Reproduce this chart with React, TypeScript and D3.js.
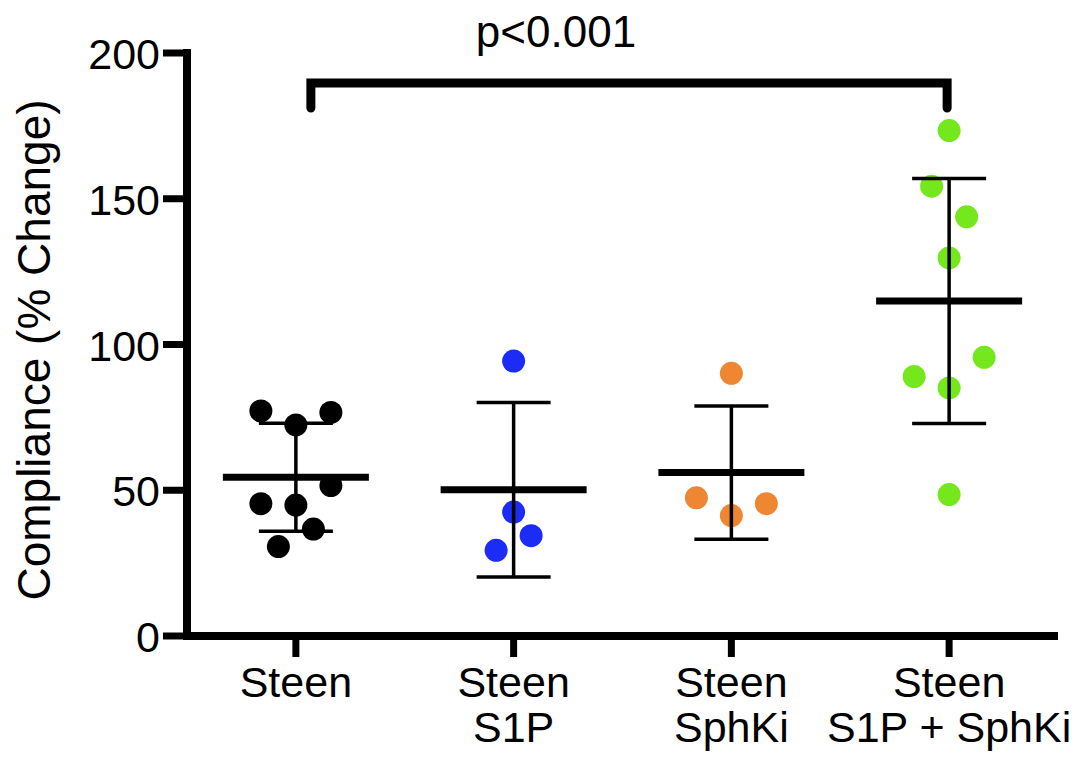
import React from 'react';
import { scaleBand, scaleLinear, mean, deviation } from 'd3';

// groups along the x axis (each label may wrap onto two lines)
const categories = ['Steen', 'Steen S1P', 'Steen SphKi', 'Steen S1P + SphKi'];
const categoryLines = [['Steen'], ['Steen', 'S1P'], ['Steen', 'SphKi'], ['Steen', 'S1P + SphKi']];
const groupColors = ['#000000', '#1a2cf5', '#ef8631', '#74e81c'];

// individual values, % change in compliance
const steen = [77.2, 76.7, 72.4, 51.6, 45.4, 44.9, 36.7, 30.7];
const steenS1P = [94.3, 42.5, 34.4, 29.4];
const steenSphKi = [90.1, 47.4, 45.4, 41.3];
const steenS1PSphKi = [173.4, 154.3, 143.8, 129.7, 95.6, 89.0, 85.1, 48.5];

// scatter slot of each point (column-scatter jitter, in dot widths)
const steenSlots = [-2, 2, 0, 2, -2, 0, 1, -1];
const steenS1PSlots = [0, 0, 1, -1];
const steenSphKiSlots = [0, -2, 2, 0];
const steenS1PSphKiSlots = [0, -1, 1, 0, 2, -2, 0, 0];

const yTicks = [0, 50, 100, 150, 200];
const pLabel = 'p<0.001';

const groups = [
  { key: categories[0], values: steen, slots: steenSlots },
  { key: categories[1], values: steenS1P, slots: steenS1PSlots },
  { key: categories[2], values: steenSphKi, slots: steenSphKiSlots },
  { key: categories[3], values: steenS1PSphKi, slots: steenS1PSphKiSlots },
];

const W = 1090;
const H = 764;
const FONT = '"Liberation Sans", Arial, Helvetica, sans-serif';

export default function App() {
  const x = scaleBand<string>().domain(categories).range([187, 1058]).padding(0);
  const y = scaleLinear().domain([0, 200]).range([636, 53]);
  const cx = (k: string) => (x(k) ?? 0) + x.bandwidth() / 2;

  const slotW = 17.5;
  const r = 11.5;
  const meanHalf = 73;
  const capHalf = 37;

  const bx1 = cx(categories[0]) + 15;
  const bx2 = cx(categories[3]) - 2;
  const by = 83;
  const byLeg = 108;

  return (
    <div style={{ position: 'absolute', left: 0, top: 0 }}>
      <svg width={W} height={H} style={{ display: 'block', background: '#fff' }} fontFamily={FONT}>
        {/* y axis title */}
        <text
          transform={`translate(50, 350) rotate(-90)`}
          textAnchor="middle"
          fontSize={46}
          fill="#000"
        >
          Compliance (% Change)
        </text>

        {/* points */}
        {groups.map((g, gi) =>
          g.values.map((v, i) => (
            <circle
              key={`${g.key}-${i}`}
              cx={cx(g.key) + g.slots[i] * slotW}
              cy={y(v)}
              r={r}
              fill={groupColors[gi]}
            />
          )),
        )}

        {/* mean ± SD */}
        {groups.map((g) => {
          const m = mean(g.values) ?? 0;
          const sd = deviation(g.values) ?? 0;
          const c = cx(g.key);
          return (
            <g key={`err-${g.key}`} stroke="#000">
              <line x1={c} x2={c} y1={y(m + sd)} y2={y(m - sd)} strokeWidth={3.5} />
              <line x1={c - capHalf} x2={c + capHalf} y1={y(m + sd)} y2={y(m + sd)} strokeWidth={3.5} />
              <line x1={c - capHalf} x2={c + capHalf} y1={y(m - sd)} y2={y(m - sd)} strokeWidth={3.5} />
              <line x1={c - meanHalf} x2={c + meanHalf} y1={y(m)} y2={y(m)} strokeWidth={7} />
            </g>
          );
        })}

        {/* y axis */}
        <line x1={187} x2={187} y1={49} y2={640} stroke="#000" strokeWidth={8} />
        {yTicks.map((t) => (
          <g key={`yt-${t}`}>
            <line x1={163} x2={187} y1={y(t)} y2={y(t)} stroke="#000" strokeWidth={7} />
            <text x={160} y={y(t) + 16} textAnchor="end" fontSize={43} fill="#000">
              {t}
            </text>
          </g>
        ))}

        {/* x axis */}
        <line x1={183} x2={1058} y1={636} y2={636} stroke="#000" strokeWidth={8} />
        {categories.map((k, i) => (
          <g key={`xt-${k}`}>
            <line x1={cx(k)} x2={cx(k)} y1={636} y2={657} stroke="#000" strokeWidth={7} />
            {categoryLines[i].map((ln, j) => (
              <text key={ln} x={cx(k)} y={697 + j * 45} textAnchor="middle" fontSize={43} fill="#000">
                {ln}
              </text>
            ))}
          </g>
        ))}

        {/* significance bracket */}
        <path
          d={`M${bx1},${byLeg} V${by} H${bx2} V${byLeg}`}
          fill="none"
          stroke="#000"
          strokeWidth={9}
          strokeLinecap="round"
          strokeLinejoin="miter"
        />
        <text x={556} y={47} textAnchor="middle" fontSize={44} fill="#000">
          {pLabel}
        </text>
      </svg>
    </div>
  );
}
